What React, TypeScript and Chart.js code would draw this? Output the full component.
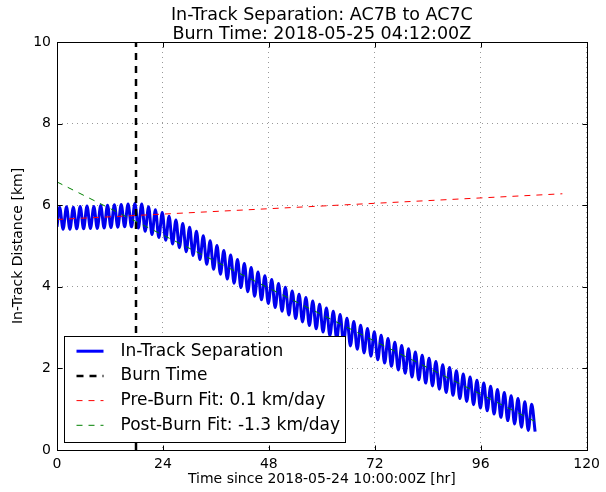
import React, { useEffect, useRef } from "react";
import { Chart, registerables } from "chart.js";

Chart.register(...registerables);

const titleLines = ["In-Track Separation: AC7B to AC7C", "Burn Time: 2018-05-25 04:12:00Z"];
const xAxisTitle = "Time since 2018-05-24 10:00:00Z [hr]";
const yAxisTitle = "In-Track Distance [km]";
const xTicks = [0, 24, 48, 72, 96, 120];
const yTicks = [0, 2, 4, 6, 8, 10];
const legendLabels = [
  "In-Track Separation",
  "Burn Time",
  "Pre-Burn Fit: 0.1 km/day",
  "Post-Burn Fit: -1.3 km/day",
];

// In-track separation: start point, then one peak and one trough per orbit
const startHr = 0;
const startKm = 5.47;
const firstPeakHr = 0.6;
const orbitHr = 1.55;
const peakKm = [
  5.95, 5.96, 5.95, 5.97, 5.98, 5.97, 5.99, 6.0, 6.01, 6.02, 6.03, 6.04,
  6.03, 5.96, 5.89, 5.82, 5.73, 5.64, 5.55, 5.46, 5.36, 5.25, 5.13, 5.01, 4.89,
  4.78, 4.67, 4.57, 4.47, 4.36, 4.27, 4.18, 4.08, 3.99, 3.9, 3.82, 3.74, 3.65, 3.57,
  3.48, 3.4, 3.32, 3.23, 3.15, 3.06, 2.98, 2.9, 2.81, 2.73, 2.64, 2.56, 2.48,
  2.4, 2.32, 2.25, 2.17, 2.09, 2.02, 1.94, 1.86, 1.79, 1.71, 1.64, 1.56,
  1.48, 1.41, 1.33, 1.26, 1.18, 1.12,
];
const troughKm = [
  5.41, 5.41, 5.42, 5.42, 5.43, 5.43, 5.44, 5.45, 5.46, 5.47, 5.47, 5.44,
  5.36, 5.28, 5.21, 5.14, 5.05, 4.96, 4.86, 4.77, 4.67, 4.55, 4.43, 4.31, 4.19,
  4.09, 3.98, 3.88, 3.77, 3.68, 3.59, 3.49, 3.4, 3.31, 3.22, 3.14, 3.05, 2.97, 2.89,
  2.8, 2.72, 2.63, 2.55, 2.47, 2.38, 2.3, 2.21, 2.13, 2.05, 1.96, 1.88, 1.79,
  1.72, 1.64, 1.57, 1.49, 1.41, 1.34, 1.26, 1.19, 1.11, 1.03, 0.96, 0.88,
  0.8, 0.72, 0.64, 0.56, 0.48, 0.45,
];

const burnHr = 17.9;
const burnKm = [0, 10];
const preFitHr = [0, 114.5];
const preFitKm = [5.65, 6.28];
const postFitHr = [0, 108.3];
const postFitKm = [6.57, 0.7];

const FONT = '"DejaVu Sans", sans-serif';

const legendStyles = [
  { color: "#0000ff", width: 3, dash: [] as number[] },
  { color: "#000000", width: 2.5, dash: [7, 6] },
  { color: "#ff0000", width: 1, dash: [6, 6] },
  { color: "#008000", width: 1, dash: [6, 6] },
];

const overlay = {
  id: "overlay",
  afterDraw(chart: any) {
    const { ctx, chartArea: ca, scales } = chart;
    const xs = scales.x;
    const ys = scales.y;
    ctx.save();
    ctx.setLineDash([]);
    ctx.strokeStyle = "#000";
    ctx.lineWidth = 1;
    const L = Math.round(ca.left) + 0.5;
    const R = Math.round(ca.right) + 0.5;
    const T = Math.round(ca.top) + 0.5;
    const B = Math.round(ca.bottom) + 0.5;
    ctx.strokeRect(L, T, R - L, B - T);
    ctx.beginPath();
    xTicks.forEach((v) => {
      const px = Math.round(xs.getPixelForValue(v)) + 0.5;
      ctx.moveTo(px, B);
      ctx.lineTo(px, B - 5);
      ctx.moveTo(px, T);
      ctx.lineTo(px, T + 5);
    });
    yTicks.forEach((v) => {
      const py = Math.round(ys.getPixelForValue(v)) + 0.5;
      ctx.moveTo(L, py);
      ctx.lineTo(L + 5, py);
      ctx.moveTo(R, py);
      ctx.lineTo(R - 5, py);
    });
    ctx.stroke();

    // titles
    ctx.fillStyle = "#000";
    ctx.textAlign = "center";
    ctx.textBaseline = "alphabetic";
    ctx.font = `17.5px ${FONT}`;
    const cx = (ca.left + ca.right) / 2;
    ctx.fillText(titleLines[0], cx, 20);
    ctx.fillText(titleLines[1], cx, 39);
    ctx.font = `14px ${FONT}`;
    ctx.fillText(xAxisTitle, cx, 483);
    ctx.save();
    ctx.translate(18, (ca.top + ca.bottom) / 2);
    ctx.rotate(-Math.PI / 2);
    ctx.textBaseline = "middle";
    ctx.fillText(yAxisTitle, 0, 0);
    ctx.restore();

    // legend
    ctx.font = `17px ${FONT}`;
    let maxW = 0;
    legendLabels.forEach((s) => {
      maxW = Math.max(maxW, ctx.measureText(s).width);
    });
    const bx = Math.round(ca.left + 7) + 0.5;
    const bh = 106;
    const by = Math.round(ca.bottom - 8 - bh) + 0.5;
    const textX = bx + 56;
    const bw = Math.round(56 + maxW + 6);
    ctx.fillStyle = "#fff";
    ctx.fillRect(bx, by, bw, bh);
    ctx.strokeStyle = "#000";
    ctx.lineWidth = 1;
    ctx.strokeRect(bx, by, bw, bh);
    legendLabels.forEach((s, i) => {
      const y = by + 14.7 + i * 24.7;
      const st = legendStyles[i];
      ctx.beginPath();
      ctx.setLineDash(st.dash);
      ctx.strokeStyle = st.color;
      ctx.lineWidth = st.width;
      ctx.moveTo(bx + 12, y);
      ctx.lineTo(bx + 39, y);
      ctx.stroke();
      ctx.setLineDash([]);
      ctx.fillStyle = "#000";
      ctx.textAlign = "left";
      ctx.textBaseline = "middle";
      ctx.fillText(s, textX, y);
    });
    ctx.restore();
  },
};

export default function App() {
  const ref = useRef<HTMLCanvasElement | null>(null);
  useEffect(() => {
    if (!ref.current) return;
    const blueData: { x: number; y: number }[] = [{ x: startHr, y: startKm }];
    peakKm.forEach((p, i) => {
      const t = firstPeakHr + i * orbitHr;
      blueData.push({ x: t, y: p });
      blueData.push({ x: t + orbitHr / 2, y: troughKm[i] });
    });
    const chart = new Chart(ref.current, {
      type: "line",
      data: {
        datasets: [
          {
            label: legendLabels[3],
            data: postFitHr.map((x, i) => ({ x, y: postFitKm[i] })),
            borderColor: "#008000",
            borderWidth: 1,
            borderDash: [6, 6],
            pointRadius: 0,
            fill: false,
          },
          {
            label: legendLabels[2],
            data: preFitHr.map((x, i) => ({ x, y: preFitKm[i] })),
            borderColor: "#ff0000",
            borderWidth: 1,
            borderDash: [6, 6],
            pointRadius: 0,
            fill: false,
          },
          {
            label: legendLabels[1],
            data: burnKm.map((y) => ({ x: burnHr, y })),
            borderColor: "#000000",
            borderWidth: 2.5,
            borderDash: [7, 6],
            pointRadius: 0,
            fill: false,
          },
          {
            label: legendLabels[0],
            data: blueData,
            borderColor: "#0000ee",
            borderWidth: 3,
            pointRadius: 0,
            cubicInterpolationMode: "monotone",
            fill: false,
          },
        ],
      },
      options: {
        animation: false,
        responsive: false,
        devicePixelRatio: 1,
        events: [],
        layout: { padding: { top: 42, right: 15, left: 0, bottom: 0 } },
        plugins: {
          legend: { display: false },
          title: { display: false },
          tooltip: { enabled: false },
        },
        scales: {
          x: {
            type: "linear",
            min: 0,
            max: 120,
            afterBuildTicks: (s: any) => {
              s.ticks = xTicks.map((v) => ({ value: v }));
            },
            afterFit: (s: any) => {
              s.height = 42;
            },
            ticks: {
              color: "#000",
              font: { family: FONT, size: 14 },
              padding: 6,
              maxRotation: 0,
              autoSkip: false,
            },
            grid: { color: "rgba(0,0,0,0.4)", lineWidth: 1, drawTicks: false },
            border: { display: false, dash: [1, 4] },
          },
          y: {
            type: "linear",
            min: 0,
            max: 10,
            afterBuildTicks: (s: any) => {
              s.ticks = yTicks.map((v) => ({ value: v }));
            },
            afterFit: (s: any) => {
              s.width = 57;
            },
            ticks: {
              color: "#000",
              font: { family: FONT, size: 14 },
              padding: 6,
              autoSkip: false,
            },
            grid: { color: "rgba(0,0,0,0.4)", lineWidth: 1, drawTicks: false },
            border: { display: false, dash: [1, 4] },
          },
        },
      },
      plugins: [overlay],
    });
    return () => chart.destroy();
  }, []);
  return (
    <div style={{ position: "fixed", left: 0, top: 0, width: 606, height: 492, background: "#fff" }}>
      <canvas ref={ref} width={606} height={492} style={{ display: "block" }} />
    </div>
  );
}
